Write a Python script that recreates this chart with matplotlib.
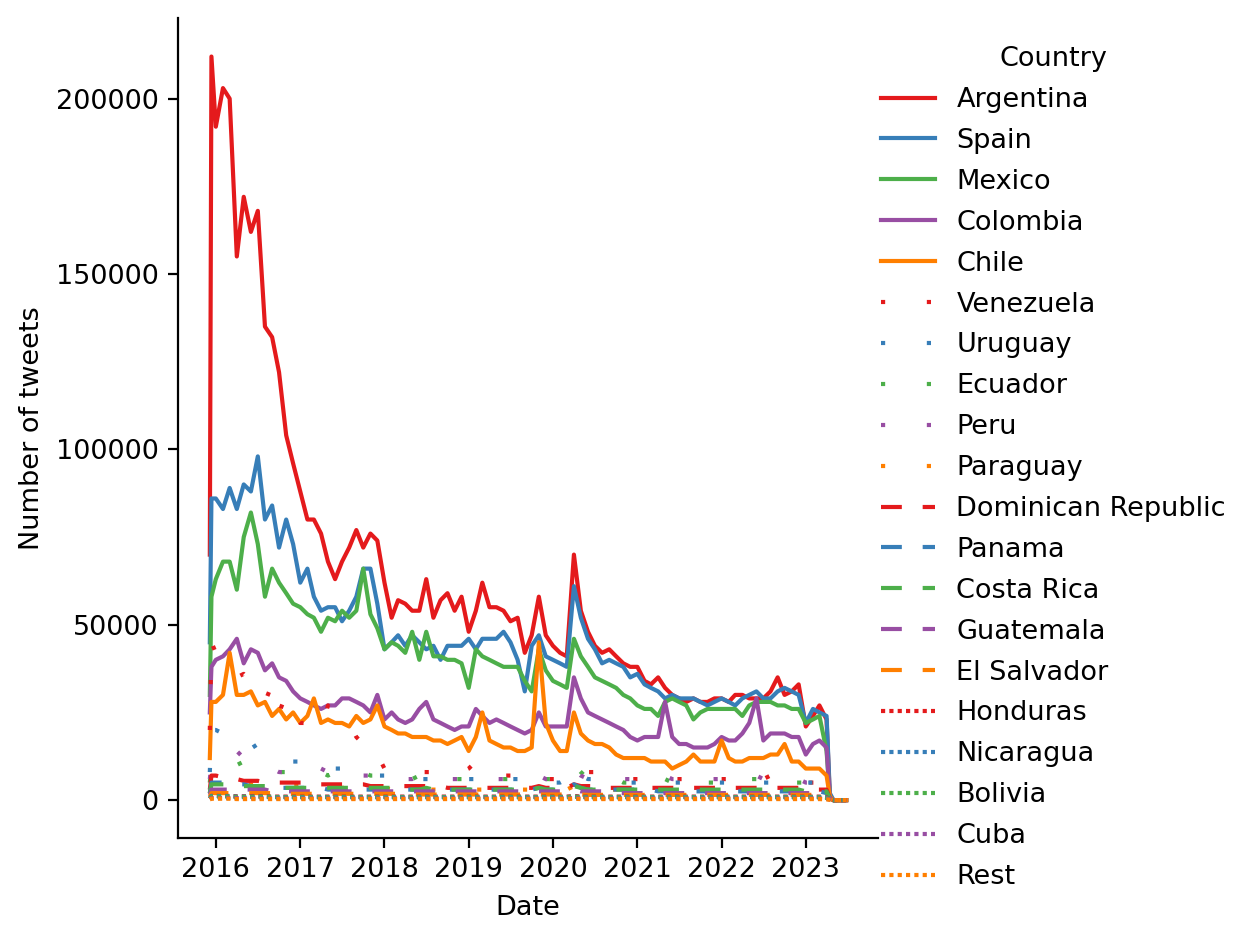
import pandas as pd
import matplotlib
matplotlib.use("Agg")
import matplotlib.pyplot as plt
import matplotlib.dates as mdates
from matplotlib.ticker import MultipleLocator
import seaborn as sns

plt.rcParams["font.size"] = 9.75

# weekly counts, kept at about one point per month
# values are in thousands of tweets
months = pd.date_range("2016-01-01", "2023-04-01", freq="MS")
dates = (pd.to_datetime(["2015-12-06", "2015-12-13"])
         .append(months)
         .append(pd.to_datetime(["2023-04-15", "2023-05-01", "2023-06-25"])))

countries = ["Argentina", "Spain", "Mexico", "Colombia", "Chile",
             "Venezuela", "Uruguay", "Ecuador", "Peru", "Paraguay",
             "Dominican Republic", "Panama", "Costa Rica", "Guatemala", "El Salvador",
             "Honduras", "Nicaragua", "Bolivia", "Cuba", "Rest"]

argentina = [
    70, 212,
    192, 203, 200, 155, 172, 162, 168, 135, 132, 122, 104, 96,
    88, 80, 80, 76, 68, 63, 68, 72, 77, 72, 76, 74,
    62, 52, 57, 56, 54, 54, 63, 52, 57, 59, 54, 58,
    48, 54, 62, 55, 55, 54, 51, 52, 42, 47, 58, 47,
    44, 42, 41, 70, 54, 48, 44, 42, 43, 41, 39, 38,
    38, 34, 33, 35, 32, 30, 29, 28, 29, 28, 28, 29,
    29, 28, 30, 30, 29, 29, 29, 31, 35, 30, 31, 33,
    21, 24, 27, 23, 1, 0, 0,
]
spain = [
    45, 86,
    86, 83, 89, 83, 90, 88, 98, 80, 84, 72, 80, 73,
    62, 66, 58, 54, 55, 55, 51, 54, 58, 66, 66, 56,
    43, 45, 47, 44, 47, 45, 43, 44, 40, 44, 44, 44,
    46, 43, 46, 46, 46, 48, 45, 40, 31, 44, 47, 41,
    40, 39, 38, 61, 52, 46, 43, 39, 40, 39, 38, 35,
    36, 33, 32, 31, 29, 30, 29, 29, 29, 28, 27, 28,
    29, 28, 27, 29, 30, 31, 29, 29, 31, 32, 31, 30,
    22, 26, 25, 24, 2, 0, 0,
]
mexico = [
    30, 58,
    63, 68, 68, 60, 75, 82, 73, 58, 66, 62, 59, 56,
    55, 53, 52, 48, 52, 51, 54, 52, 54, 66, 53, 49,
    43, 45, 44, 42, 48, 40, 48, 41, 41, 40, 40, 39,
    32, 43, 41, 40, 39, 38, 38, 38, 34, 31, 43, 37,
    34, 33, 32, 46, 41, 38, 35, 34, 33, 32, 30, 29,
    27, 26, 26, 24, 28, 29, 28, 27, 23, 25, 26, 26,
    26, 26, 26, 24, 27, 28, 28, 28, 27, 27, 26, 26,
    22, 23, 24, 14, 1, 0, 0,
]
colombia = [
    25, 38,
    40, 41, 43, 46, 39, 43, 42, 37, 39, 35, 34, 31,
    29, 28, 27, 26, 27, 27, 29, 29, 28, 27, 25, 30,
    23, 25, 23, 22, 23, 26, 28, 23, 22, 21, 20, 21,
    21, 26, 24, 22, 23, 22, 21, 20, 19, 20, 25, 21,
    21, 21, 21, 35, 29, 25, 24, 23, 22, 21, 20, 18,
    17, 18, 18, 18, 28, 18, 16, 16, 15, 15, 15, 16,
    18, 17, 17, 19, 22, 29, 17, 19, 19, 19, 18, 18,
    13, 16, 17, 15, 1, 0, 0,
]
chile = [
    12, 28,
    28, 30, 42, 30, 30, 31, 27, 28, 24, 26, 23, 25,
    22, 24, 29, 22, 23, 22, 22, 21, 24, 22, 23, 27,
    21, 20, 19, 19, 18, 18, 18, 17, 17, 16, 17, 18,
    14, 18, 25, 17, 16, 15, 15, 14, 14, 15, 45, 22,
    17, 14, 14, 25, 19, 17, 16, 16, 15, 13, 12, 12,
    12, 12, 11, 11, 11, 9, 10, 11, 13, 11, 11, 11,
    17, 12, 11, 11, 12, 12, 12, 13, 13, 16, 11, 11,
    9, 9, 9, 7, 1, 0, 0,
]
venezuela = [
    20, 45,
    42, 41, 40, 35, 36, 34, 32, 28, 33, 25, 30, 24,
    22, 22, 21, 20, 27, 24, 23, 22, 18, 16, 17, 13,
    9, 9, 8, 8, 8, 8, 8, 8, 8, 8, 9, 8,
    9, 11, 9, 8, 7, 7, 7, 7, 6, 7, 6, 6,
    6, 6, 6, 9, 9, 8, 8, 7, 6, 6, 6, 6,
    6, 6, 6, 6, 7, 6, 6, 6, 5, 6, 6, 6,
    6, 6, 6, 6, 7, 6, 6, 7, 6, 6, 6, 6,
    5, 5, 5, 4, 1, 0, 0,
]
uruguay = [
    8, 20,
    20, 19, 18, 16, 17, 17, 14, 13, 13, 12, 12, 11,
    11, 10, 9, 8, 8, 9, 9, 9, 8, 8, 7, 7,
    7, 7, 7, 8, 7, 6, 6, 6, 6, 6, 6, 6,
    6, 6, 7, 6, 6, 6, 6, 6, 5, 5, 6, 5,
    5, 5, 6, 10, 7, 6, 6, 5, 5, 5, 5, 5,
    5, 6, 5, 5, 5, 5, 5, 5, 6, 5, 5, 5,
    5, 5, 5, 5, 5, 6, 5, 5, 5, 5, 6, 5,
    5, 5, 5, 4, 1, 0, 0,
]
ecuador = [
    5, 10,
    10, 9, 9, 10, 11, 10, 9, 8, 8, 8, 8, 8,
    8, 8, 8, 8, 7, 8, 8, 8, 7, 8, 7, 7,
    6, 6, 6, 6, 6, 7, 6, 6, 6, 6, 6, 6,
    6, 6, 6, 6, 6, 6, 6, 5, 6, 6, 7, 6,
    6, 6, 6, 10, 8, 6, 6, 6, 6, 6, 5, 5,
    5, 5, 6, 5, 6, 5, 5, 5, 5, 6, 5, 5,
    5, 6, 5, 5, 6, 6, 5, 5, 5, 5, 5, 5,
    5, 5, 5, 4, 1, 0, 0,
]
peru = [
    6, 10,
    11, 11, 13, 14, 12, 11, 10, 9, 9, 8, 8, 9,
    9, 8, 8, 9, 8, 7, 7, 8, 7, 7, 7, 7,
    7, 6, 6, 6, 6, 7, 6, 6, 6, 6, 6, 6,
    6, 6, 6, 6, 6, 6, 6, 6, 6, 6, 7, 6,
    6, 6, 6, 9, 7, 6, 6, 6, 6, 6, 6, 6,
    6, 6, 6, 6, 7, 6, 6, 6, 5, 6, 6, 6,
    6, 6, 6, 6, 6, 7, 6, 6, 6, 6, 6, 6,
    5, 5, 5, 4, 1, 0, 0,
]
paraguay = [
    2, 4,
    5, 5, 5, 4.5, 4.5, 4.5, 4, 4, 4, 4, 4, 4,
    4, 4, 4, 3.5, 3.5, 3.5, 3.5, 3.5, 3.5, 3.5, 3.5, 3.5,
    3.5, 3, 3, 3, 3, 3, 3, 3, 3, 3, 3, 3,
    3, 3, 3, 3, 3, 3, 3, 3, 3, 3, 3.5, 3,
    3, 3, 3, 4, 3.5, 3, 3, 3, 3, 3, 3, 3,
    3, 3, 3, 3, 3, 3, 2.5, 2.5, 2.5, 2.5, 2.5, 2.5,
    2.5, 2.5, 2.5, 2.5, 2.5, 2.5, 2.5, 2.5, 2.5, 2.5, 2.5, 2.5,
    2.5, 2.5, 2.5, 2, 0.5, 0, 0,
]
dominican = [
    3, 7,
    7, 6.5, 6, 6, 5.5, 5.5, 5.5, 5, 5, 5, 5, 5,
    5, 5, 5, 4.5, 4.5, 4.5, 4.5, 4.5, 4.5, 4.5, 4, 4,
    4, 4, 4, 4, 4, 4, 4, 4, 4, 3.5, 3.5, 3.5,
    3.5, 3.5, 3.5, 3.5, 3.5, 3.5, 3.5, 3.5, 3.5, 3.5, 4, 3.5,
    3.5, 3.5, 3.5, 4.5, 4, 4, 4, 4, 3.5, 3.5, 3.5, 3.5,
    3.5, 3.5, 3.5, 3.5, 3.5, 3.5, 3.5, 3.5, 3.5, 3.5, 3.5, 3.5,
    3.5, 3.5, 3.5, 3.5, 3.5, 3.5, 3.5, 3.5, 3.5, 3.5, 3.5, 3.5,
    3, 3, 3, 3, 0.5, 0, 0,
]
panama = [
    2, 5,
    5, 5, 4.5, 4.5, 4.5, 4, 4, 4, 4, 3.5, 3.5, 3.5,
    3.5, 3.5, 3.5, 3.5, 3, 3, 3, 3, 3, 3, 3, 3,
    3, 3, 3, 3, 3, 3, 3, 3, 3, 3, 3, 3,
    3, 3, 3, 3, 3, 3, 3, 3, 3, 3, 3.5, 3,
    3, 3, 3, 4.5, 3.5, 3, 3, 3, 3, 3, 3, 3,
    3, 3, 3, 2.5, 2.5, 2.5, 2.5, 2.5, 2.5, 2.5, 2.5, 2.5,
    2.5, 2.5, 2.5, 2.5, 2.5, 2.5, 2.5, 2.5, 2.5, 2.5, 2.5, 2.5,
    2.5, 2.5, 2.5, 2, 0.5, 0, 0,
]
costa_rica = [
    2, 4.5,
    4.5, 4.5, 4.5, 4.5, 4, 4, 4, 4, 4, 3.5, 3.5, 3.5,
    3.5, 3.5, 3.5, 3.5, 3.5, 3.5, 3.5, 3.5, 3.5, 3.5, 3.5, 3.5,
    3.5, 3.5, 3.5, 3, 3, 3, 3.5, 3, 3, 3, 3, 3,
    3, 3, 3, 3, 3, 3, 3, 3, 3, 3, 3.5, 3,
    3, 3, 3, 4, 3.5, 3, 3, 3, 3, 3, 3, 3,
    3, 3, 3, 3, 3, 3, 3, 3, 3, 3, 3, 3,
    3, 3, 3, 3, 3, 3, 3, 3, 3, 3, 3, 3,
    2.5, 2.5, 2.5, 2.5, 0.5, 0, 0,
]
guatemala = [
    1.5, 3,
    3, 3, 3, 3, 3, 3, 3, 3, 2.5, 2.5, 2.5, 2.5,
    2.5, 2.5, 2.5, 2.5, 2.5, 2.5, 2.5, 2.5, 2.5, 2.5, 2.5, 2.5,
    2.5, 2.5, 2.5, 2.5, 2.5, 2.5, 2.5, 2.5, 2.5, 2.5, 2.5, 2.5,
    2.5, 2.5, 2.5, 2.5, 2.5, 2.5, 2.5, 2.5, 2.5, 2.5, 2.5, 2.5,
    2.5, 2.5, 2.5, 3, 2.5, 2.5, 2.5, 2.5, 2, 2, 2, 2,
    2, 2, 2, 2, 2, 2, 2, 2, 2, 2, 2, 2,
    2, 2, 2, 2, 2, 2, 2, 2, 2, 2, 2, 2,
    2, 2, 2, 1.5, 0.5, 0, 0,
]
el_salvador = [
    1, 2,
    2, 2, 2, 2, 2, 2, 2, 2, 2, 1.8, 1.8, 1.8,
    1.8, 1.8, 1.8, 1.8, 1.8, 1.8, 1.8, 1.8, 1.8, 1.8, 1.8, 1.8,
    1.8, 1.8, 1.8, 1.6, 1.6, 1.6, 1.6, 1.6, 1.6, 1.6, 1.6, 1.6,
    1.6, 1.6, 1.6, 1.6, 1.6, 1.6, 1.6, 1.6, 1.6, 1.6, 1.6, 1.6,
    1.6, 1.6, 1.6, 2, 1.6, 1.5, 1.5, 1.5, 1.5, 1.5, 1.5, 1.5,
    1.5, 1.5, 1.5, 1.5, 1.5, 1.5, 1.5, 1.5, 1.5, 1.5, 1.5, 1.5,
    1.5, 1.5, 1.5, 1.5, 1.5, 1.5, 1.5, 1.5, 1.5, 1.5, 1.5, 1.5,
    1.5, 1.5, 1.5, 1, 0.3, 0, 0,
]
honduras = [
    0.5, 1.2,
    1.2, 1.2, 1.2, 1.1, 1.1, 1.1, 1.1, 1.1, 1, 1, 1, 1,
    1, 1, 1, 1, 1, 1, 1, 1, 1, 1, 1, 1,
    1, 1, 1, 1, 1, 1, 1, 1, 1, 1, 1, 1,
    1, 1, 1, 1, 1, 1, 1, 1, 1, 1, 1, 1,
    1, 1, 1, 1.2, 1, 1, 1, 1, 1, 1, 1, 1,
    1, 1, 1, 1, 1, 1, 1, 1, 1, 1, 1, 1,
    1, 1, 1, 1, 1, 1, 1, 1, 1, 1, 1, 1,
    1, 1, 1, 0.8, 0.2, 0, 0,
]
nicaragua = [
    0.5, 1.2,
    1.2, 1.1, 1.1, 1, 1, 1, 1, 1, 0.9, 0.9, 0.9, 0.9,
    0.9, 0.9, 0.9, 0.9, 0.9, 0.9, 0.9, 0.9, 0.9, 0.9, 0.9, 0.9,
    0.9, 0.9, 0.9, 0.9, 0.9, 0.9, 0.9, 0.9, 0.9, 0.9, 0.9, 0.9,
    0.9, 0.9, 0.9, 0.9, 0.9, 0.9, 0.9, 0.9, 0.9, 0.9, 0.9, 0.9,
    0.9, 0.9, 0.9, 1, 0.9, 0.9, 0.9, 0.9, 0.9, 0.9, 0.9, 0.9,
    0.9, 0.9, 0.9, 0.9, 0.9, 0.9, 0.9, 0.9, 0.9, 0.9, 0.9, 0.9,
    0.9, 0.9, 0.9, 0.9, 0.9, 0.9, 0.9, 0.9, 0.9, 0.9, 0.9, 0.9,
    0.9, 0.9, 0.9, 0.7, 0.2, 0, 0,
]
bolivia = [
    0.4, 1,
    1, 1, 1, 0.9, 0.9, 0.9, 0.9, 0.9, 0.9, 0.8, 0.8, 0.8,
    0.8, 0.8, 0.8, 0.8, 0.8, 0.8, 0.8, 0.8, 0.8, 0.8, 0.8, 0.8,
    0.8, 0.8, 0.8, 0.8, 0.8, 0.8, 0.8, 0.8, 0.8, 0.8, 0.8, 0.8,
    0.8, 0.8, 0.8, 0.8, 0.8, 0.8, 0.8, 0.8, 0.8, 0.8, 0.8, 0.8,
    0.8, 0.8, 0.8, 1, 0.8, 0.8, 0.8, 0.8, 0.8, 0.8, 0.8, 0.8,
    0.8, 0.8, 0.8, 0.8, 0.8, 0.8, 0.8, 0.8, 0.8, 0.8, 0.8, 0.8,
    0.8, 0.8, 0.8, 0.8, 0.8, 0.8, 0.8, 0.8, 0.8, 0.8, 0.8, 0.8,
    0.8, 0.8, 0.8, 0.6, 0.2, 0, 0,
]
cuba = [
    0.3, 0.6,
    0.6, 0.6, 0.6, 0.6, 0.5, 0.5, 0.5, 0.5, 0.5, 0.5, 0.5, 0.5,
    0.5, 0.5, 0.5, 0.5, 0.5, 0.5, 0.5, 0.5, 0.5, 0.5, 0.5, 0.5,
    0.5, 0.5, 0.5, 0.5, 0.5, 0.5, 0.5, 0.5, 0.5, 0.5, 0.5, 0.5,
    0.5, 0.5, 0.5, 0.5, 0.5, 0.5, 0.5, 0.5, 0.5, 0.5, 0.5, 0.5,
    0.5, 0.5, 0.5, 0.6, 0.5, 0.5, 0.5, 0.5, 0.5, 0.5, 0.5, 0.5,
    0.5, 0.5, 0.5, 0.5, 0.5, 0.5, 0.5, 0.5, 0.5, 0.5, 0.5, 0.5,
    0.5, 0.5, 0.5, 0.5, 0.5, 0.5, 0.5, 0.5, 0.5, 0.5, 0.5, 0.5,
    0.5, 0.5, 0.5, 0.4, 0.1, 0, 0,
]
rest = [
    0.2, 0.4,
    0.4, 0.4, 0.4, 0.3, 0.3, 0.3, 0.3, 0.3, 0.3, 0.3, 0.3, 0.3,
    0.3, 0.3, 0.3, 0.3, 0.3, 0.3, 0.3, 0.3, 0.3, 0.3, 0.3, 0.3,
    0.3, 0.3, 0.3, 0.3, 0.3, 0.3, 0.3, 0.3, 0.3, 0.3, 0.3, 0.3,
    0.3, 0.3, 0.3, 0.3, 0.3, 0.3, 0.3, 0.3, 0.3, 0.3, 0.3, 0.3,
    0.3, 0.3, 0.3, 0.4, 0.3, 0.3, 0.3, 0.3, 0.3, 0.3, 0.3, 0.3,
    0.3, 0.3, 0.3, 0.3, 0.3, 0.3, 0.3, 0.3, 0.3, 0.3, 0.3, 0.3,
    0.3, 0.3, 0.3, 0.3, 0.3, 0.3, 0.3, 0.3, 0.3, 0.3, 0.3, 0.3,
    0.3, 0.3, 0.3, 0.2, 0.1, 0, 0,
]

series = [argentina, spain, mexico, colombia, chile,
          venezuela, uruguay, ecuador, peru, paraguay,
          dominican, panama, costa_rica, guatemala, el_salvador,
          honduras, nicaragua, bolivia, cuba, rest]

frames = []
for name, vals in zip(countries, series):
    assert len(vals) == len(dates), name
    frames.append(pd.DataFrame({"Date": dates, "Country": name,
                                "Number of tweets": [v * 1000 for v in vals]}))
df = pd.concat(frames, ignore_index=True)

set1 = sns.color_palette("Set1")[:5]
palette = {c: set1[i % 5] for i, c in enumerate(countries)}
patterns = ["", (1, 10), (5, 5), (1, 1)]
dashes = {c: patterns[i // 5] for i, c in enumerate(countries)}

fig = plt.figure(figsize=(6.25, 4.7), dpi=200)
ax = fig.add_axes([0.1424, 0.1085, 0.56, 0.8724])

sns.lineplot(data=df, x="Date", y="Number of tweets", hue="Country", style="Country",
             hue_order=countries, style_order=countries,
             palette=palette, dashes=dashes, ax=ax)

ax.set_ylim(-10800, 223000)
ax.yaxis.set_major_locator(MultipleLocator(50000))
ax.xaxis.set_major_locator(mdates.YearLocator())
ax.xaxis.set_major_formatter(mdates.DateFormatter("%Y"))
sns.despine(ax=ax)

handles, labels = ax.get_legend_handles_labels()
ax.get_legend().remove()
fig.legend(handles, labels, title="Country", loc="center left",
           bbox_to_anchor=(0.685, 0.502), frameon=False, labelspacing=0.55)

fig.savefig("out.png", dpi=200)
